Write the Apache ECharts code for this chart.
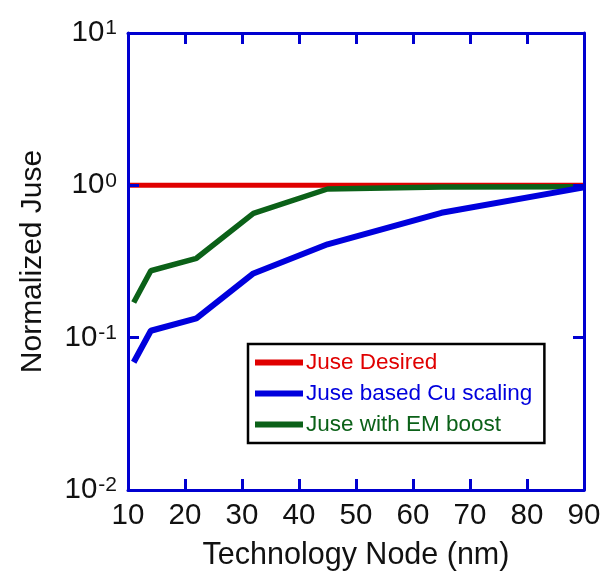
<!DOCTYPE html>
<html><head><meta charset="utf-8">
<script src="https://cdn.jsdelivr.net/npm/echarts@6/dist/echarts.min.js"></script>
<style>html,body{margin:0;padding:0;background:#fff}#c{width:608px;height:571px}</style>
</head><body><div id="c"></div>
<script>
var nodes = [11, 14, 22, 32, 45, 65, 90];
var desiredX = [10, 90];
var desired = [1.0, 1.0];
var cuScaling = [0.069, 0.111, 0.134, 0.264, 0.41, 0.66, 0.97];
var emBoost = [0.170, 0.275, 0.332, 0.655, 0.946, 0.975, 0.98];
var xTicks = [10, 20, 30, 40, 50, 60, 70, 80, 90];
var yTicks = [0.01, 0.1, 1, 10];

var FONT = 'Liberation Sans, Arial, sans-serif';
var AX = '#0000d0';
var RED = '#e00000', BLUE = '#0000dd', GREEN = '#0b6118';

function pairs(xs, ys) { return xs.map(function (x, i) { return [x, ys[i]]; }); }
function yFmt(v) {
  var e = Math.round(Math.log10(v));
  return '{b|10}{s|' + e + '}';
}
var axLine = { show: true, onZero: false, lineStyle: { color: AX, width: 3 } };
var axTick = { show: true, inside: true, length: 11, lineStyle: { color: AX, width: 3 } };

var chart = echarts.init(document.getElementById('c'), null, { renderer: 'canvas' });
chart.setOption({
  animation: false,
  backgroundColor: '#fff',
  textStyle: { fontFamily: FONT },
  grid: { left: 128, right: 24, top: 33, bottom: 81, containLabel: false, outerBoundsMode: 'none' },
  xAxis: [{
    type: 'value', min: 10, max: 90, interval: 10, position: 'bottom', z: 10,
    name: 'Technology Node (nm)', nameLocation: 'middle', nameGap: 50,
    nameTextStyle: { fontSize: 30.5, color: '#111', fontFamily: FONT },
    axisLine: axLine, axisTick: axTick, splitLine: { show: false },
    axisLabel: { fontSize: 29.5, color: '#111', margin: 11, fontFamily: FONT,
      formatter: function (v) { return xTicks.indexOf(v) >= 0 ? String(v) : ''; } }
  }, {
    type: 'value', min: 10, max: 90, interval: 10, position: 'top', z: 10,
    axisLine: axLine, axisTick: axTick, splitLine: { show: false }, axisLabel: { show: false }
  }],
  yAxis: [{
    type: 'log', logBase: 10, min: 0.01, max: 10, position: 'left', z: 10,
    name: 'Normalized Juse', nameLocation: 'middle', nameGap: 80,
    nameTextStyle: { fontSize: 30, color: '#111', fontFamily: FONT },
    axisLine: axLine, axisTick: axTick, splitLine: { show: false }, minorTick: { show: false },
    axisLabel: { margin: 11, formatter: yFmt, fontFamily: FONT,
      rich: {
        b: { fontSize: 29.5, color: '#111', fontFamily: FONT, lineHeight: 30, verticalAlign: 'bottom', padding: [8, 0, 0, 0] },
        s: { fontSize: 21, color: '#111', fontFamily: FONT, verticalAlign: 'top', lineHeight: 21, padding: [0, 0, 0, 1] }
      } }
  }, {
    type: 'log', logBase: 10, min: 0.01, max: 10, position: 'right', z: 10,
    axisLine: axLine, axisTick: axTick, splitLine: { show: false }, axisLabel: { show: false }
  }],
  legend: {
    orient: 'vertical', left: 248, top: 344,
    backgroundColor: '#fff', borderColor: '#000', borderWidth: 2.5, borderRadius: 0,
    padding: [7, 12, 7, 7], itemGap: 8, itemWidth: 48, itemHeight: 6,
    icon: 'rect',
    textStyle: { fontSize: 22.5, fontFamily: FONT, padding: [0, 0, 0, -2] },
    data: [
      { name: 'Juse Desired', textStyle: { color: RED } },
      { name: 'Juse based Cu scaling', textStyle: { color: BLUE } },
      { name: 'Juse with EM boost', textStyle: { color: GREEN } }
    ]
  },
  series: [{
    name: 'Juse Desired', type: 'line', showSymbol: false, symbol: 'none',
    data: pairs(desiredX, desired), color: RED, lineStyle: { color: RED, width: 5 }, z: 2
  }, {
    name: 'Juse with EM boost', type: 'line', showSymbol: false, symbol: 'none',
    data: pairs(nodes, emBoost), color: GREEN, lineStyle: { color: GREEN, width: 5.5 }, z: 3
  }, {
    name: 'Juse based Cu scaling', type: 'line', showSymbol: false, symbol: 'none',
    data: pairs(nodes, cuScaling), color: BLUE, lineStyle: { color: BLUE, width: 6 }, z: 4
  }]
});
</script></body></html>
